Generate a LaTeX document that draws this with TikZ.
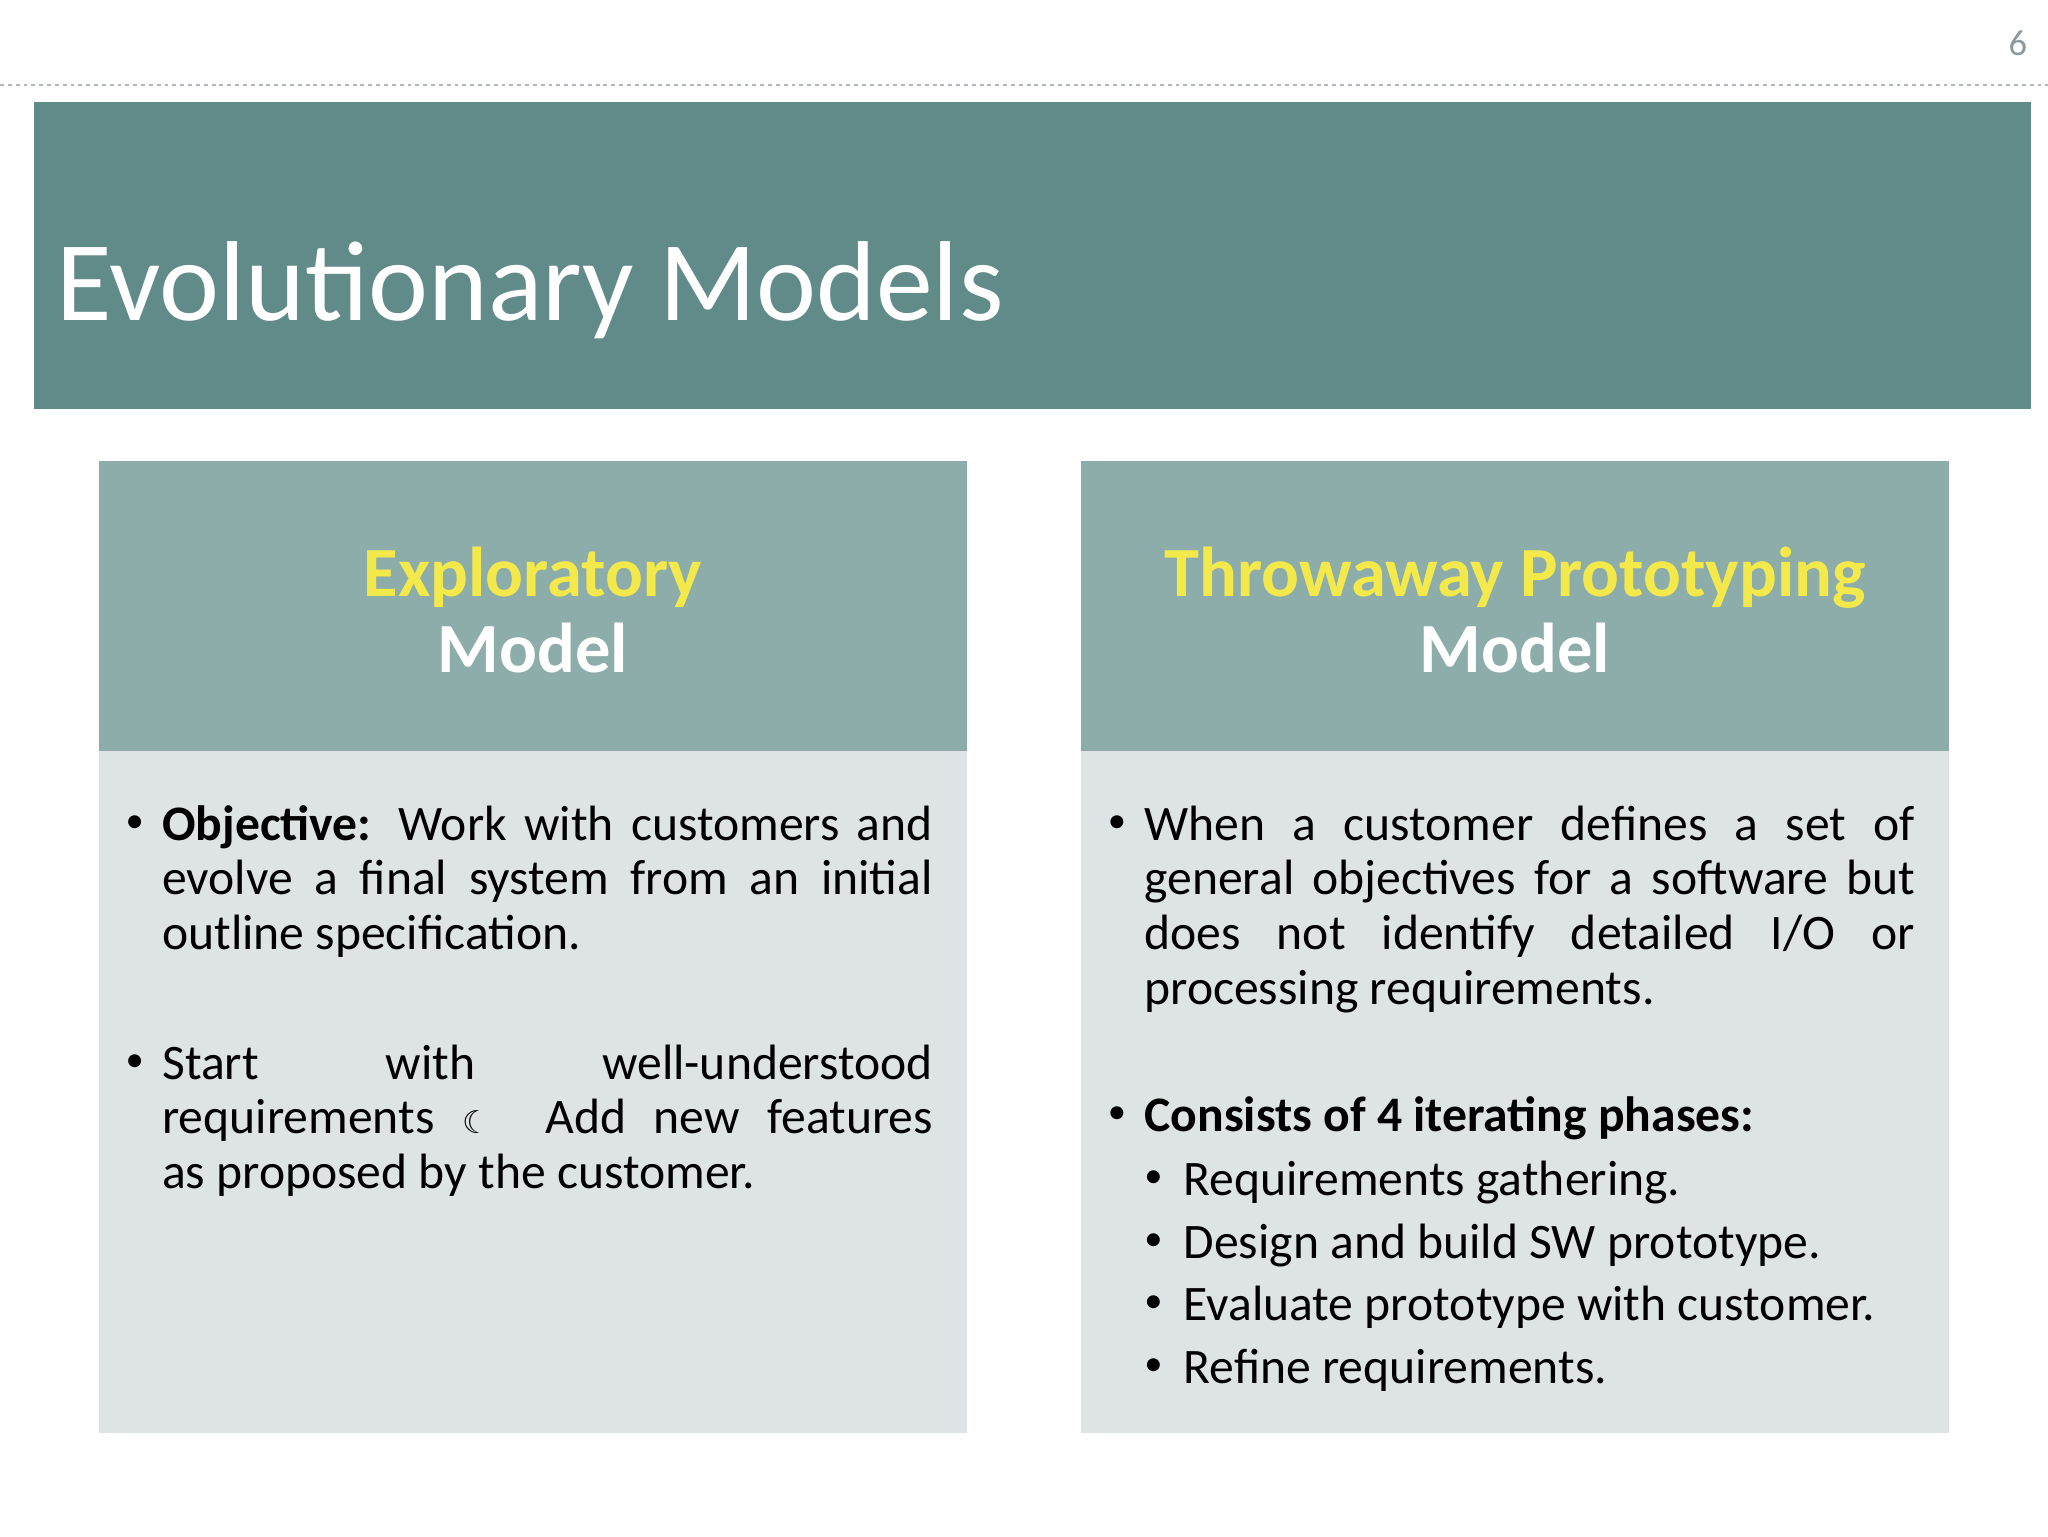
\documentclass[tikz,border=0pt]{standalone}
\usepackage{fontspec}
\setmainfont{Carlito}
\newfontfamily\djv{DejaVu Sans}
\definecolor{band}{HTML}{618B88}
\definecolor{hdr}{HTML}{8DADAB}
\definecolor{bodyc}{HTML}{DDE4E3}
\definecolor{ylw}{HTML}{F4E94A}
\definecolor{pg}{HTML}{8C9AA0}
\newcommand{\nohyph}{\hyphenpenalty=10000\relax}
\newcommand{\mybul}{\makebox[0pt][l]{\raisebox{6pt}{\fontsize{28}{28}\selectfont\textbullet}}}
\newenvironment{blist}[1]{\begin{list}{\mybul}{\leftmargin=#1\labelwidth=#1\labelsep=0pt\itemsep=0pt\parsep=0pt\topsep=0pt\partopsep=0pt\def\makelabel##1{\makebox[#1][l]{##1}}}}{\end{list}}
\tikzset{
  hdrbox/.style={fill=hdr,draw=none},
  bodybox/.style={fill=bodyc,draw=none},
  hdrtxt/.style={align=center,font=\fontsize{54}{58}\selectfont\bfseries},
  bodytxt/.style={anchor=north west,inner sep=0pt,text width=618pt,align=justify,font=\fontsize{38}{42}\selectfont\nohyph}
}
\begin{document}
\begin{tikzpicture}[x=1pt,y=-1pt]
\useasboundingbox (0,0) rectangle (1568,1176);
\fill[white] (0,0) rectangle (1568,1176);
\node[text=pg,font=\fontsize{28}{30}\selectfont] (pnum) at (1545,33) {6};
\draw[pg!70,dashed,line width=1pt] (0,65) -- (1568,65);
\fill[band] (26,78) rectangle (1555,313);
\node[anchor=base west,text=white,font=\fontsize{87}{95}\selectfont,inner sep=0pt] (title) at (43,245) {Evolutionary Models};
% left
\fill[hdrbox] (76,353) rectangle (740,575);
\fill[bodybox] (76,575) rectangle (740,1097);
\node[hdrtxt] (lh) at (408,467) {\textcolor{ylw}{Exploratory}\\\textcolor{white}{Model}};
\node[bodytxt] (lb) at (96,601) {\begin{blist}{28pt}
\item \textbf{Objective:} Work with customers and evolve a final system from an initial outline specification.\\[15pt]
\item Start with well-understood\linebreak requirements {\djv\fontsize{24}{24}\selectfont ☾}\ \ Add new features\linebreak as proposed by the customer.
\end{blist}};
% right
\fill[hdrbox] (828,353) rectangle (1492,575);
\fill[bodybox] (828,575) rectangle (1492,1097);
\node[hdrtxt] (rh) at (1160,467) {\textcolor{ylw}{Throwaway Prototyping}\\\textcolor{white}{Model}};
\node[bodytxt] (rb) at (848,601) {\begin{blist}{28pt}
\item When a customer defines a set of\linebreak general objectives for a software but\linebreak does not identify detailed I/O or\linebreak processing requirements.
\end{blist}\vspace{55pt}
\begin{blist}{28pt}
\item \textbf{Consists of 4 iterating phases:}\\[-41pt]
\begin{blist}{30pt}
\setlength{\itemsep}{6pt}\vspace{6pt}
\item Requirements gathering.
\item Design and build SW prototype.
\item Evaluate prototype with customer.
\item Refine requirements.
\end{blist}
\end{blist}};
\end{tikzpicture}
\end{document}
